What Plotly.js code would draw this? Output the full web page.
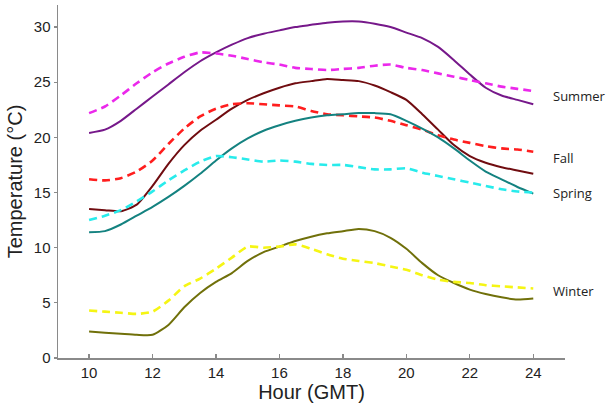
<!DOCTYPE html>
<html>
<head>
<meta charset="utf-8">
<script src="https://cdn.plot.ly/plotly-3.0.1.min.js"></script>
<style>html,body{margin:0;padding:0;background:#fff;}#chart{width:610px;height:403px;}</style>
</head>
<body>
<div id="chart"></div>
<script>
const hours = [10,10.5,11,11.5,12,12.5,13,13.5,14,14.5,15,15.5,16,16.5,17,17.5,18,18.5,19,19.5,20,20.5,21,21.5,22,22.5,23,23.5,24];

const summerSolid = [20.4,20.7,21.5,22.6,23.7,24.8,25.9,26.9,27.7,28.4,29.0,29.4,29.7,30.0,30.2,30.4,30.5,30.5,30.3,30.0,29.5,29.0,28.2,27.0,25.7,24.5,23.8,23.4,23.0];
const summerDashed = [22.2,22.8,23.8,24.9,25.9,26.7,27.3,27.7,27.6,27.4,27.1,26.8,26.6,26.3,26.2,26.1,26.2,26.3,26.5,26.6,26.3,26.1,25.8,25.5,25.2,24.9,24.6,24.4,24.2];
const fallSolid = [13.5,13.4,13.3,13.9,15.6,17.6,19.3,20.6,21.6,22.6,23.4,24.0,24.5,24.9,25.1,25.3,25.2,25.1,24.7,24.1,23.4,22.1,20.7,19.3,18.3,17.7,17.3,17.0,16.7];
const fallDashed = [16.2,16.1,16.3,16.9,17.9,19.4,20.8,21.9,22.6,23.0,23.1,23.0,22.9,22.8,22.4,22.1,22.0,21.9,21.8,21.5,21.1,20.7,20.2,19.8,19.5,19.2,19.0,18.9,18.7];
const springSolid = [11.4,11.5,12.1,12.9,13.7,14.6,15.6,16.7,17.9,19.0,19.9,20.6,21.1,21.5,21.8,22.0,22.1,22.2,22.2,22.1,21.5,20.8,20.0,19.0,17.9,16.9,16.2,15.5,14.9];
const springDashed = [12.5,12.9,13.4,14.2,15.1,16.1,17.0,17.8,18.3,18.2,18.0,17.8,17.9,17.8,17.6,17.5,17.5,17.3,17.1,17.1,17.2,16.8,16.5,16.2,15.9,15.6,15.3,15.1,15.0];
const winterSolid = [2.4,2.3,2.2,2.1,2.1,3.0,4.6,5.9,6.9,7.7,8.8,9.6,10.1,10.6,11.0,11.3,11.5,11.7,11.5,10.9,9.9,8.6,7.5,6.8,6.2,5.8,5.5,5.3,5.4];
const winterDashed = [4.3,4.2,4.1,4.0,4.2,5.2,6.5,7.2,8.1,9.1,10.1,10.0,10.1,10.3,9.9,9.4,9.0,8.8,8.6,8.3,8.0,7.5,7.1,6.9,6.8,6.6,6.5,6.4,6.3];

const seasonLabels = ["Summer","Fall","Spring","Winter"];
const labelY = [23.75,18.1,15.0,6.1];
const labelX = 24.57;

const xTicks = [10,12,14,16,18,20,22,24];
const yTicks = [0,5,10,15,20,25,30];

const series = [
  {y: summerSolid, color: "rgb(118,24,138)", dash: "solid"},
  {y: summerDashed, color: "rgb(235,40,235)", dash: "dashed"},
  {y: fallSolid, color: "rgb(112,12,16)", dash: "solid"},
  {y: fallDashed, color: "rgb(255,30,30)", dash: "dashed"},
  {y: springSolid, color: "rgb(20,130,128)", dash: "solid"},
  {y: springDashed, color: "rgb(40,235,235)", dash: "dashed"},
  {y: winterSolid, color: "rgb(112,112,10)", dash: "solid"},
  {y: winterDashed, color: "rgb(245,245,20)", dash: "dashed"}
];

const traces = series.map(s => ({
  x: hours, y: s.y, type: "scatter", mode: "lines",
  line: {color: s.color, width: s.dash === "solid" ? 2 : 2.6, dash: s.dash === "solid" ? "solid" : "8px,5px", shape: "spline", smoothing: 0.6},
  showlegend: false, hoverinfo: "skip"
}));

const annotations = seasonLabels.map((t, i) => ({
  x: labelX, y: labelY[i], xref: "x", yref: "y", text: t, showarrow: false,
  xanchor: "left", yanchor: "middle",
  font: {family: "Open Sans, Liberation Sans, sans-serif", size: 13, color: "#222"}
}));

const layout = {
  width: 610, height: 403,
  margin: {l: 58, r: 45, t: 5, b: 45, pad: 0},
  paper_bgcolor: "#fff", plot_bgcolor: "#fff",
  showlegend: false,
  xaxis: {
    range: [9.02, 25.0], tickvals: xTicks, ticktext: xTicks.map(String),
    showgrid: false, zeroline: false, showline: true, linecolor: "#8a8a8a", linewidth: 1.5,
    ticks: "inside", ticklen: 4, tickcolor: "#8a8a8a", tickwidth: 1.2,
    tickfont: {family: "Liberation Sans, Arial, sans-serif", size: 15, color: "#222"},
    title: {text: "Hour (GMT)", font: {family: "Liberation Sans, Arial, sans-serif", size: 20, color: "#222"}, standoff: 4}
  },
  yaxis: {
    range: [0, 32], tickvals: yTicks, ticktext: yTicks.map(String),
    showgrid: false, zeroline: false, showline: true, linecolor: "#8a8a8a", linewidth: 1.5,
    ticks: "outside", ticklen: 3, tickcolor: "#8a8a8a", tickwidth: 1.2,
    tickfont: {family: "Liberation Sans, Arial, sans-serif", size: 15, color: "#222"},
    title: {text: "Temperature (°C)", font: {family: "Liberation Sans, Arial, sans-serif", size: 20, color: "#222"}, standoff: 6}
  },
  annotations: annotations
};

Plotly.newPlot("chart", traces, layout, {displayModeBar: false, staticPlot: true});
</script>
</body>
</html>
